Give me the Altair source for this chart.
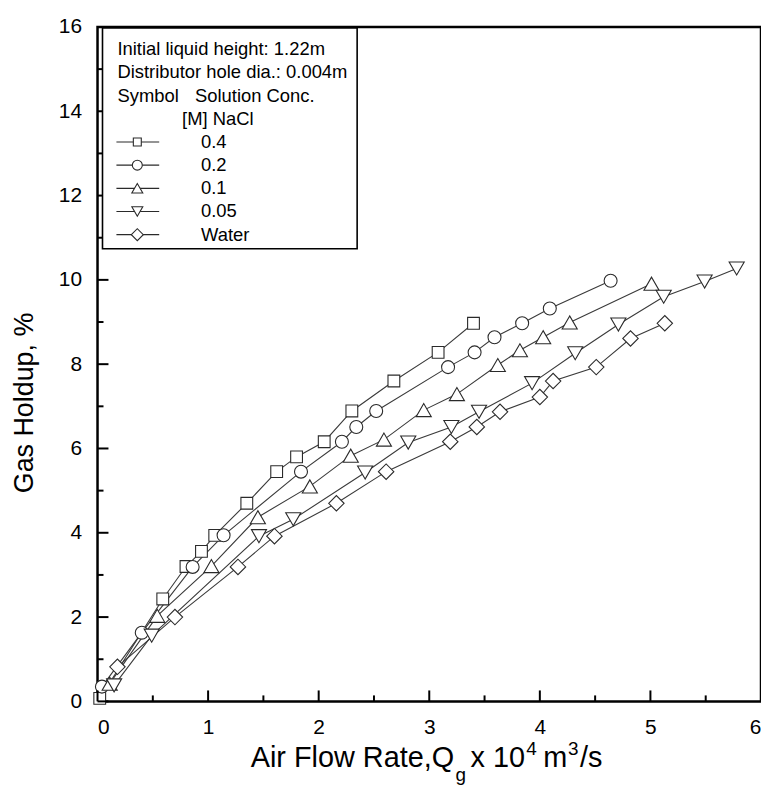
import altair as alt
import pandas as pd

FONT = "Liberation Sans"

# ---------------- data ----------------
series_names = ["0.4", "0.2", "0.1", "0.05", "Water"]
series_shapes = ["square", "circle", "triangle-up", "triangle-down", "diamond"]

sq_x = [0.02, 0.59, 0.80, 0.94, 1.06, 1.35, 1.62, 1.80, 2.05, 2.30, 2.68, 3.08, 3.40]
sq_y = [0.07, 2.43, 3.20, 3.56, 3.94, 4.70, 5.45, 5.80, 6.16, 6.89, 7.60, 8.28, 8.97]

ci_x = [0.04, 0.40, 0.86, 1.14, 1.84, 2.21, 2.34, 2.52, 3.17, 3.41, 3.59, 3.84, 4.09, 4.64]
ci_y = [0.35, 1.63, 3.19, 3.94, 5.45, 6.16, 6.51, 6.89, 7.93, 8.28, 8.64, 8.97, 9.32, 9.98]

tu_x = [0.11, 0.54, 1.03, 1.45, 1.92, 2.29, 2.59, 2.95, 3.25, 3.62, 3.82, 4.03, 4.27, 5.01]
tu_y = [0.42, 2.03, 3.21, 4.37, 5.10, 5.83, 6.21, 6.91, 7.29, 7.98, 8.33, 8.64, 8.99, 9.91]

td_x = [0.15, 0.49, 1.46, 1.77, 2.42, 2.81, 3.20, 3.45, 3.93, 4.32, 4.71, 5.12, 5.49, 5.78]
td_y = [0.38, 1.56, 3.92, 4.32, 5.43, 6.14, 6.51, 6.87, 7.55, 8.26, 8.94, 9.60, 9.96, 10.27]

di_x = [0.18, 0.70, 1.27, 1.60, 2.16, 2.61, 3.19, 3.43, 3.64, 4.00, 4.12, 4.51, 4.82, 5.13]
di_y = [0.82, 2.00, 3.19, 3.92, 4.70, 5.45, 6.16, 6.51, 6.87, 7.22, 7.60, 7.93, 8.61, 8.97]

x_label_values = [0, 1, 2, 3, 4, 5, 6]
y_label_values = [0, 2, 4, 6, 8, 10, 12, 14, 16]
x_major_ticks = [0, 1, 2, 3, 4, 5, 6]
x_minor_ticks = [0.5, 1.5, 2.5, 3.5, 4.5, 5.5]
y_major_ticks = [0, 2, 4, 6, 8, 10, 12, 14, 16]
y_minor_ticks = [1, 3, 5, 7, 9, 11, 13, 15]

header_lines = ["Initial liquid height: 1.22m", "Distributor hole dia.: 0.004m", "Symbol"]
header_right = ["Solution Conc.", "[M] NaCl"]

# ---------------- styles ----------------
marker_sizes = [140, 170, 230, 230, 240]
legend_sizes = [64, 100, 121, 121, 144]
W, H = 667, 678

xs_all = [sq_x, ci_x, tu_x, td_x, di_x]
ys_all = [sq_y, ci_y, tu_y, td_y, di_y]
rows = []
for k, name in enumerate(series_names):
    for i, (xv, yv) in enumerate(zip(xs_all[k], ys_all[k])):
        rows.append({"series": name, "x": xv, "y": yv, "order": i,
                     "shape": series_shapes[k], "msize": marker_sizes[k]})
df = pd.DataFrame(rows)

xscale = alt.Scale(domain=[0, 6], nice=False, zero=False)
yscale = alt.Scale(domain=[0, 16], nice=False, zero=False)

x_axis = alt.Axis(values=x_label_values, ticks=False, domain=False, grid=False,
                  labelFontSize=21, labelPadding=15, title=None, labelFont=FONT,
                  labelColor="black", format="d")
y_axis = alt.Axis(values=y_label_values, ticks=False, domain=False, grid=False,
                  labelFontSize=21, labelPadding=16, title=None, labelFont=FONT,
                  labelColor="black", format="d")

X = alt.X("x:Q", scale=xscale, axis=x_axis)
Y = alt.Y("y:Q", scale=yscale, axis=y_axis)

lines = alt.Chart(df).mark_line(color="#3a3a3a", strokeWidth=1.1).encode(
    x=X, y=Y, detail="series:N", order="order:Q"
)
points = alt.Chart(df).mark_point(
    filled=True, fill="white", stroke="#2a2a2a", strokeWidth=1.1, opacity=1
).encode(
    x=X, y=Y,
    shape=alt.Shape("shape:N", scale=None),
    size=alt.Size("msize:Q", scale=None),
)

def tick_layer(vals, axis_ch, length):
    d = pd.DataFrame({"t": vals})
    if axis_ch == "x":
        return alt.Chart(d).mark_rule(color="black", strokeWidth=2).encode(
            x=alt.X("t:Q", scale=xscale, axis=x_axis),
            y=alt.value(H), y2=alt.value(H - length))
    return alt.Chart(d).mark_rule(color="black", strokeWidth=2).encode(
        y=alt.Y("t:Q", scale=yscale, axis=y_axis),
        x=alt.value(0), x2=alt.value(length))

ticks = [tick_layer(x_major_ticks, "x", 11), tick_layer(x_minor_ticks, "x", 6),
         tick_layer(y_major_ticks, "y", 11), tick_layer(y_minor_ticks, "y", 6)]

def text_piece(txt, px, py, size, **kw):
    return alt.Chart(pd.DataFrame({"t": [txt]})).mark_text(
        font=FONT, fontSize=size, color="black", **kw
    ).encode(text="t:N", x=alt.value(px), y=alt.value(py))

# x-axis title with subscript / superscripts (chart coords: page - (98, 25))
base = 744
xtitle = [
    text_piece("Air Flow Rate,Q", 154, base, 29, align="left", baseline="alphabetic"),
    text_piece("g", 360, base + 14, 19, align="left", baseline="alphabetic"),
    text_piece("x 10", 375, base, 29, align="left", baseline="alphabetic"),
    text_piece("4", 431, base - 12, 19, align="left", baseline="alphabetic"),
    text_piece("m", 448, base, 29, align="left", baseline="alphabetic"),
    text_piece("3", 473, base - 12, 19, align="left", baseline="alphabetic"),
    text_piece("/s", 485, base, 29, align="left", baseline="alphabetic"),
]
ytitle = text_piece("Gas Holdup, %", -73, 378, 27, align="center", baseline="middle", angle=270)

main = alt.layer(lines, points, *ticks, *xtitle, ytitle)

# ---------------- legend (own row scale) ----------------
row_scale = alt.Scale(domain=[-4, 4], range=[22.5, 208.8], nice=False, zero=False)
RY = alt.Y("row:Q", scale=row_scale, axis=None)

leg_df = pd.DataFrame({"series": series_names, "shape": series_shapes,
                       "lsize": legend_sizes, "row": list(range(len(series_names)))})
hdr_df = pd.DataFrame({"t": header_lines, "row": [-4, -3, -2]})
hdr_r_df = pd.DataFrame({"t": header_right, "row": [-2, -1]})

box = alt.Chart(pd.DataFrame({"a": [0]})).mark_rect(
    fill="white", stroke="black", strokeWidth=1.6
).encode(x=alt.value(5), x2=alt.value(261), y=alt.value(1), y2=alt.value(223))

hdr = alt.Chart(hdr_df).mark_text(font=FONT, fontSize=18.5, color="black",
                                  align="left", baseline="middle").encode(
    text="t:N", x=alt.value(20), y=RY)
hdr_r = alt.Chart(hdr_r_df).mark_text(font=FONT, fontSize=18.5, color="black",
                                      align="left", baseline="middle",
                                      dx=alt.ExprRef("datum.row == -2 ? 78 : 65")).encode(
    text="t:N", x=alt.value(20), y=RY)
leg_rules = alt.Chart(leg_df).mark_rule(color="#2a2a2a", strokeWidth=1.1).encode(
    x=alt.value(19), x2=alt.value(62), y=RY)
leg_pts = alt.Chart(leg_df).mark_point(
    filled=True, fill="white", stroke="#2a2a2a", strokeWidth=1.1, opacity=1
).encode(x=alt.value(40), y=RY,
         shape=alt.Shape("shape:N", scale=None),
         size=alt.Size("lsize:Q", scale=None))
leg_lbl = alt.Chart(leg_df).mark_text(font=FONT, fontSize=18.5, color="black",
                                      align="left", baseline="middle").encode(
    text="series:N", x=alt.value(104), y=RY)

legend = alt.layer(box, hdr, hdr_r, leg_rules, leg_pts, leg_lbl)

chart = alt.layer(main, legend).resolve_scale(y="independent").properties(
    width=W, height=H,
    padding={"left": 90, "top": 17, "right": 0, "bottom": 83},
    autosize=alt.AutoSizeParams(type="none"),
    background="white",
).configure_view(stroke="black", strokeWidth=2.5)

chart.save("out.html", embed_options={"renderer": "svg", "actions": False})
